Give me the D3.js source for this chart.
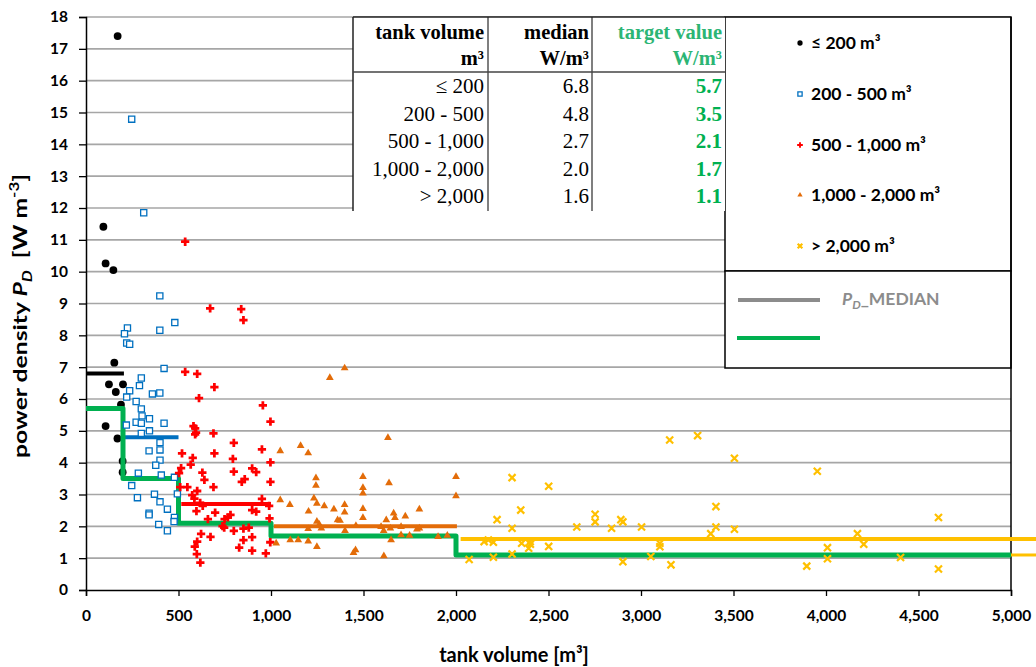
<!DOCTYPE html>
<html>
<head>
<meta charset="utf-8">
<script src="https://cdn.jsdelivr.net/npm/d3@7"></script>
<style>
  html, body { margin: 0; padding: 0; background: #fff; }
  svg { display: block; }
</style>
</head>
<body>
<svg id="chart" width="1036" height="667"></svg>
<script>
// ---------------- data ----------------
const legendLabels = ["≤ 200 m³", "200 - 500 m³", "500 - 1,000 m³", "1,000 - 2,000 m³", "> 2,000 m³"];
const tableClassLabels = ["≤ 200", "200 - 500", "500 - 1,000", "1,000 - 2,000", "> 2,000"];
const classBreaks = [0, 200, 500, 1000, 2000, 5000];
const medianValues = [6.8, 4.8, 2.7, 2.0, 1.6];
const targetValues = [5.7, 3.5, 2.1, 1.7, 1.1];
// span (in m³) over which each class median is drawn
const medianFrom = [0, 210, 515, 1015, 2025];
const medianTo   = [205, 500, 1000, 2005, 5140];
const xTickValues = [0, 500, 1000, 1500, 2000, 2500, 3000, 3500, 4000, 4500, 5000];
const yTickValues = [0, 1, 2, 3, 4, 5, 6, 7, 8, 9, 10, 11, 12, 13, 14, 15, 16, 17, 18];

// [tank volume m³, power density W/m³]
const tanksUpTo200 = [
  [171, 17.4], [94, 11.41], [106, 10.26], [148, 10.05], [153, 7.14], [124, 6.46], [200, 6.46],
  [161, 6.22], [189, 5.82], [106, 5.15], [170, 4.76], [198, 4.05], [198, 3.70]
];
const tans200to500 = [
  [247, 14.79], [312, 11.85], [399, 9.24], [480, 8.40], [224, 8.23], [208, 8.05], [399, 8.16],
  [220, 7.76], [236, 7.72], [422, 6.96], [299, 6.66], [289, 6.42], [236, 6.26], [359, 6.16],
  [399, 6.19], [220, 6.06], [271, 5.92], [299, 5.69], [303, 5.47], [343, 5.38], [271, 5.27],
  [218, 5.18], [299, 5.24], [422, 5.24], [343, 5.00], [299, 4.92], [400, 4.63], [341, 4.37],
  [400, 4.40], [400, 4.08], [377, 3.92], [283, 3.67], [407, 3.61], [478, 3.54], [247, 3.28],
  [278, 2.90], [370, 3.01], [400, 2.77], [494, 3.02], [440, 2.54], [341, 2.41], [341, 2.36],
  [478, 2.28], [476, 2.15], [393, 2.06], [440, 1.86]
];
const tanks500to1000 = [
  [536, 10.94], [671, 8.85], [839, 8.82], [851, 8.48], [536, 6.85], [601, 6.79], [694, 6.37],
  [611, 6.03], [956, 5.80], [997, 5.29], [581, 5.15], [590, 5.08], [595, 4.94], [590, 4.89],
  [689, 4.92], [799, 4.62], [951, 4.42], [519, 4.29], [694, 4.29], [577, 4.15], [794, 4.12],
  [997, 4.01], [566, 3.94], [514, 3.83], [898, 3.82], [920, 3.70], [799, 3.72], [629, 3.69],
  [503, 3.67], [640, 3.46], [858, 3.48], [842, 3.40], [997, 3.40], [509, 3.23], [548, 3.23],
  [689, 3.23], [601, 3.11], [574, 2.98], [586, 2.87], [951, 2.86], [617, 2.74], [631, 2.64],
  [990, 2.64], [898, 2.51], [920, 2.46], [597, 2.48], [698, 2.43], [781, 2.36], [767, 2.28],
  [749, 2.23], [659, 2.23], [992, 2.25], [738, 2.01], [747, 1.96], [799, 1.86], [851, 1.93],
  [880, 1.96], [622, 1.76], [673, 1.67], [898, 1.66], [601, 1.52], [996, 1.50], [588, 1.36],
  [828, 1.33], [898, 1.24], [599, 1.13], [972, 1.15], [618, 0.86], [851, 1.57]
];
const tanks1000to2000 = [
  [1398, 6.97], [1318, 6.67], [1632, 4.78], [1160, 4.53], [1050, 4.37], [1201, 4.30], [2000, 3.56],
  [1497, 3.56], [1243, 3.52], [1638, 3.36], [1243, 3.28], [1497, 3.21], [1497, 3.04], [2000, 2.95],
  [1232, 2.88], [1050, 2.83], [1248, 2.72], [1102, 2.68], [1288, 2.64], [1398, 2.68], [1340, 2.54],
  [1497, 2.55], [1802, 2.54], [1203, 2.47], [1398, 2.44], [1663, 2.41], [1497, 2.27], [1726, 2.32],
  [1670, 2.27], [1248, 2.15], [1360, 2.20], [1373, 2.18], [1623, 2.20], [1261, 2.06], [1459, 2.02],
  [1595, 1.99], [1703, 1.99], [1645, 1.94], [1272, 1.94], [1201, 1.92], [1400, 1.86], [1789, 1.91],
  [1802, 1.94], [1609, 1.86], [1649, 1.57], [1703, 1.73], [1749, 1.71], [1903, 1.67], [1953, 1.71],
  [1028, 1.47], [1104, 1.57], [1147, 1.57], [1201, 1.53], [1248, 1.36], [1446, 1.17], [1457, 1.26],
  [1610, 1.07]
];
const tanksOver2000 = [
  [3155, 4.71], [3306, 4.85], [3505, 4.14], [2303, 3.53], [2501, 3.26], [3405, 2.62], [2350, 2.51],
  [2222, 2.21], [2752, 2.38], [2752, 2.14], [2891, 2.21], [2902, 2.14], [2653, 1.98], [2841, 1.94],
  [3003, 1.98], [2303, 1.94], [3405, 1.98], [3505, 1.91], [3377, 1.77], [2152, 1.52], [2175, 1.57],
  [2202, 1.50], [2355, 1.47], [2401, 1.52], [2402, 1.44], [2393, 1.31], [2501, 1.37], [3102, 1.47],
  [3102, 1.36], [2303, 1.13], [2202, 1.03], [2071, 0.96], [2902, 0.89], [3053, 1.05], [3162, 0.79],
  [3953, 3.73], [4608, 2.28], [4170, 1.77], [4204, 1.44], [4008, 1.33], [4008, 0.98], [4403, 1.02],
  [3896, 0.75], [4608, 0.66]
];

// ---------------- styling ----------------
const COLORS = ["#000000", "#0070c0", "#ff0000", "#e36c09", "#ffc000"];
const GREEN = "#00b050";
const SANS = "Lato, 'Open Sans', sans-serif";
const SERIF = "'Liberation Serif', 'Times New Roman', serif";

const svg = d3.select("#chart");
const x = d3.scaleLinear().domain([0, 5000]).range([86, 1011]);
const y = d3.scaleLinear().domain([0, 18]).range([590, 17]);

// horizontal gridlines
svg.append("g").selectAll("line")
  .data(yTickValues.filter(v => v > 0))
  .join("line")
  .attr("x1", x(0)).attr("x2", x(5000))
  .attr("y1", d => y(d)).attr("y2", d => y(d))
  .attr("stroke", "#a6a6a6").attr("stroke-width", 1.6);

// ---------------- legend box ----------------
const lg = svg.append("g");
lg.append("rect").attr("x", 725).attr("y", 17).attr("width", 286).attr("height", 254)
  .attr("fill", "#fff").attr("stroke", "#000").attr("stroke-width", 1.5);
lg.append("rect").attr("x", 725).attr("y", 271).attr("width", 286).attr("height", 97)
  .attr("fill", "#fff").attr("stroke", "#000").attr("stroke-width", 1.5);

// ---------------- table ----------------
const tb = svg.append("g");
tb.append("rect").attr("x", 353).attr("y", 17).attr("width", 372).attr("height", 194).attr("fill", "#fff");
tb.append("line").attr("x1", 353).attr("x2", 353).attr("y1", 17).attr("y2", 211).attr("stroke", "#222").attr("stroke-width", 1.5);
tb.append("line").attr("x1", 488).attr("x2", 488).attr("y1", 17).attr("y2", 211).attr("stroke", "#555").attr("stroke-width", 1.5);
tb.append("line").attr("x1", 592).attr("x2", 592).attr("y1", 17).attr("y2", 211).attr("stroke", "#555").attr("stroke-width", 1.5);
tb.append("line").attr("x1", 353).attr("x2", 725).attr("y1", 17).attr("y2", 17).attr("stroke", "#222").attr("stroke-width", 1.5);
tb.append("line").attr("x1", 353).attr("x2", 725).attr("y1", 72).attr("y2", 72).attr("stroke", "#444").attr("stroke-width", 1.5);

const colRight = [484, 589, 722];
const headerRows = [["tank volume", "median", "target value"], ["m³", "W/m³", "W/m³"]];
const headerBase = [39, 65];
headerRows.forEach((row, r) => {
  row.forEach((t, c) => {
    tb.append("text").attr("x", colRight[c]).attr("y", headerBase[r])
      .attr("text-anchor", "end").attr("font-family", SERIF).attr("font-size", 20.5)
      .attr("font-weight", "bold").attr("fill", c === 2 ? "#2cb574" : "#000").text(t);
  });
});
const rowBase = [93, 121, 148, 176, 203];
tableClassLabels.forEach((lab, i) => {
  tb.append("text").attr("x", colRight[0]).attr("y", rowBase[i]).attr("text-anchor", "end")
    .attr("font-family", SERIF).attr("font-size", 21).attr("fill", "#000").text(lab);
  tb.append("text").attr("x", colRight[1]).attr("y", rowBase[i]).attr("text-anchor", "end")
    .attr("font-family", SERIF).attr("font-size", 21).attr("fill", "#000").text(d3.format(".1f")(medianValues[i]));
  tb.append("text").attr("x", colRight[2]).attr("y", rowBase[i]).attr("text-anchor", "end")
    .attr("font-family", SERIF).attr("font-size", 21).attr("font-weight", "bold").attr("fill", GREEN)
    .text(d3.format(".1f")(targetValues[i]));
});

// ---------------- axes ----------------
const yAxis = svg.append("g").attr("transform", `translate(${x(0)},0)`)
  .call(d3.axisLeft(y).tickValues(yTickValues).tickSize(7).tickPadding(11).tickFormat(d3.format("d")));
const xAxis = svg.append("g").attr("transform", `translate(0,${y(0)})`)
  .call(d3.axisBottom(x).tickValues(xTickValues).tickSize(6).tickPadding(14).tickFormat(d3.format(",")));
[yAxis, xAxis].forEach(a => {
  a.select(".domain").attr("stroke", "#000").attr("stroke-width", 1.5);
  a.selectAll(".tick line").attr("stroke", "#000").attr("stroke-width", 1.3);
  a.selectAll(".tick text").attr("font-family", SANS).attr("font-size", 15.5).attr("font-weight", "bold").attr("fill", "#000");
});
// right frame line
svg.append("line").attr("x1", x(5000)).attr("x2", x(5000)).attr("y1", y(18)).attr("y2", y(0))
  .attr("stroke", "#000").attr("stroke-width", 1.5);

// axis titles
svg.append("text").attr("x", 514).attr("y", 662).attr("text-anchor", "middle")
  .attr("font-family", SANS).attr("font-size", 20).attr("font-weight", "bold").text("tank volume [m³]");

const yt = svg.append("text").attr("transform", "translate(27,316) rotate(-90)")
  .attr("text-anchor", "middle").attr("font-family", SANS).attr("font-size", 19).attr("font-weight", "bold")
  .attr("textLength", 284).attr("lengthAdjust", "spacingAndGlyphs");
yt.append("tspan").text("power density ");
yt.append("tspan").attr("font-style", "italic").text("P");
yt.append("tspan").attr("font-style", "italic").attr("font-size", 13).attr("dy", 5).text("D");
yt.append("tspan").attr("dy", -5).text("\u00a0 [W m");
yt.append("tspan").attr("font-size", 13).attr("dy", -8).text("-3");
yt.append("tspan").attr("dy", 8).text("]");

// ---------------- series ----------------
const series = [tanksUpTo200, tans200to500, tanks500to1000, tanks1000to2000, tanksOver2000];
const symbolTypes = [d3.symbolCircle, d3.symbolSquare, d3.symbolCross, d3.symbolTriangle, d3.symbolTimes];
const plotSizes = [48, 38, 38, 26, 34];
const legendSizes = [22, 18, 18, 12, 16];

function styleMarker(sel, i) {
  if (i === 1) sel.attr("fill", "#fff").attr("stroke", COLORS[1]).attr("stroke-width", 1.3);
  else if (i === 4) sel.attr("fill", "none").attr("stroke", COLORS[4]).attr("stroke-width", 2.2);
  else sel.attr("fill", COLORS[i]).attr("stroke", "none");
}

function drawPoints(i) {
  const g = svg.append("g");
  g.selectAll("path").data(series[i]).join("path")
    .attr("transform", d => `translate(${x(d[0])},${y(d[1])})`)
    .attr("d", d3.symbol(symbolTypes[i], plotSizes[i]))
    .call(styleMarker, i);
}

// small tanks drawn beneath the median/target lines
drawPoints(0);

// class medians
const lines = svg.append("g");
medianValues.forEach((m, i) => {
  lines.append("line")
    .attr("x1", x(medianFrom[i])).attr("x2", x(medianTo[i]))
    .attr("y1", y(m)).attr("y2", y(m))
    .attr("stroke", COLORS[i]).attr("stroke-width", 4);
});
// continuation of the last target level past the frame
lines.append("line").attr("x1", x(5000)).attr("x2", x(5140))
  .attr("y1", y(targetValues[4])).attr("y2", y(targetValues[4]))
  .attr("stroke", COLORS[4]).attr("stroke-width", 3);

// target value step line
const stepPts = classBreaks.map((b, i) => [b, targetValues[Math.min(i, targetValues.length - 1)]]);
lines.append("path").datum(stepPts)
  .attr("d", d3.line().x(d => x(d[0])).y(d => y(d[1])).curve(d3.curveStepAfter))
  .attr("fill", "none").attr("stroke", GREEN).attr("stroke-width", 5).attr("stroke-linejoin", "round");

for (let i = 1; i < series.length; i++) drawPoints(i);

// ---------------- legend content ----------------
const legendRowY = [43, 94, 145, 195, 246];
legendLabels.forEach((lab, i) => {
  lg.append("path").attr("transform", `translate(800,${legendRowY[i]})`)
    .attr("d", d3.symbol(symbolTypes[i], legendSizes[i])).call(styleMarker, i);
  lg.append("text").attr("x", 811).attr("y", legendRowY[i]).attr("dy", "0.36em")
    .attr("font-family", SANS).attr("font-size", 17.5).attr("font-weight", "bold").attr("fill", "#000").text(lab);
});
lg.append("line").attr("x1", 738).attr("x2", 820).attr("y1", 300).attr("y2", 300)
  .attr("stroke", "#8c8c8c").attr("stroke-width", 4);
const mt = lg.append("text").attr("x", 842).attr("y", 305)
  .attr("font-family", SANS).attr("font-size", 17.5).attr("font-weight", "bold").attr("fill", "#8c8c8c");
mt.append("tspan").attr("font-style", "italic").text("P");
mt.append("tspan").attr("font-style", "italic").attr("font-size", 12).attr("dy", 4).text("D");
mt.append("tspan").attr("dy", -4).text("_MEDIAN");
lg.append("line").attr("x1", 737).attr("x2", 820).attr("y1", 338).attr("y2", 338)
  .attr("stroke", GREEN).attr("stroke-width", 4);
</script>
</body>
</html>
